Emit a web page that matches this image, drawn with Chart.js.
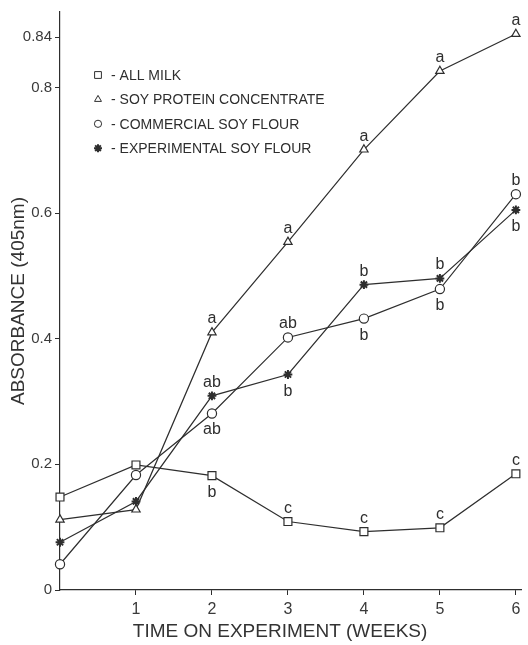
<!DOCTYPE html>
<html>
<head>
<meta charset="utf-8">
<style>
html,body{margin:0;padding:0;background:#fff;}
#wrap{width:528px;height:645px;position:relative;}
</style>
<script src="https://cdn.jsdelivr.net/npm/chart.js@4.4.1/dist/chart.umd.min.js"></script>
</head>
<body>
<div id="wrap"><canvas id="c" width="528" height="645"></canvas></div>
<script>
// ---- data ----
const weeks = [0, 1, 2, 3, 4, 5, 6];
const xTickValues = [1, 2, 3, 4, 5, 6];
const yTickValues = [0, 0.2, 0.4, 0.6, 0.8, 0.88];
const yTickLabels = ['0', '0.2', '0.4', '0.6', '0.8', '0.84'];

const seriesLabels = ['ALL MILK', 'SOY PROTEIN CONCENTRATE', 'COMMERCIAL SOY FLOUR', 'EXPERIMENTAL SOY FLOUR'];

const allMilk      = [0.148, 0.199, 0.182, 0.109, 0.093, 0.099, 0.185];
const soyProtein   = [0.112, 0.128, 0.410, 0.554, 0.701, 0.826, 0.885];
const commercialSF = [0.041, 0.183, 0.281, 0.402, 0.432, 0.479, 0.630];
const experimentSF = [0.076, 0.141, 0.309, 0.343, 0.486, 0.496, 0.605];

const allMilkLetters      = ['', '', 'b', 'c', 'c', 'c', 'c'];
const allMilkLetterPos    = ['', '', 'below', 'above', 'above', 'above', 'above'];
const soyProteinLetters   = ['', '', 'a', 'a', 'a', 'a', 'a'];
const soyProteinLetterPos = ['', '', 'above', 'above', 'above', 'above', 'above'];
const commercialLetters   = ['', '', 'ab', 'ab', 'b', 'b', 'b'];
const commercialLetterPos = ['', '', 'below', 'above', 'below', 'below', 'above'];
const experimentLetters   = ['', '', 'ab', 'b', 'b', 'b', 'b'];
const experimentLetterPos = ['', '', 'above', 'below', 'above', 'above', 'below'];

// ---- styling ----
const FONT = "'Liberation Sans', Arial, sans-serif";
const INK = '#2e2e2e';

function toXY(values) {
  return values.map((v, i) => ({ x: weeks[i], y: v }));
}

function makeDataset(label, values, style, radius, legendRadius, letters, letterPos) {
  return {
    label: label,
    data: toXY(values),
    borderColor: INK,
    borderWidth: 1.2,
    tension: 0,
    fill: false,
    pointStyle: style,
    pointRadius: radius,
    pointHoverRadius: radius,
    pointBackgroundColor: '#ffffff',
    pointBorderColor: INK,
    pointBorderWidth: style === 'star' ? 2 : 1.2,
    clip: false,
    letters: letters,
    letterPos: letterPos,
    legendRadius: legendRadius
  };
}

const datasets = [
  makeDataset(seriesLabels[0], allMilk, 'rect', 5.6, 4.8, allMilkLetters, allMilkLetterPos),
  makeDataset(seriesLabels[1], soyProtein, 'triangle', 4.8, 4.0, soyProteinLetters, soyProteinLetterPos),
  makeDataset(seriesLabels[2], commercialSF, 'circle', 4.6, 3.6, commercialLetters, commercialLetterPos),
  makeDataset(seriesLabels[3], experimentSF, 'star', 4.4, 4.0, experimentLetters, experimentLetterPos)
];

const letterPlugin = {
  id: 'letters',
  afterDatasetsDraw(chart) {
    const ctx = chart.ctx;
    ctx.save();
    ctx.font = '16px ' + FONT;
    ctx.fillStyle = INK;
    ctx.textAlign = 'center';
    ctx.textBaseline = 'alphabetic';
    chart.data.datasets.forEach((ds, di) => {
      const meta = chart.getDatasetMeta(di);
      ds.letters.forEach((t, i) => {
        if (!t) return;
        const p = meta.data[i];
        const y = ds.letterPos[i] === 'above' ? p.y - 9 : p.y + 21;
        ctx.fillText(t, p.x, y);
      });
    });
    ctx.restore();
  }
};

const legendPlugin = {
  id: 'insideLegend',
  afterDraw(chart) {
    const ctx = chart.ctx;
    ctx.save();
    chart.data.datasets.forEach((ds, i) => {
      const y = 75 + i * 24.4;
      ctx.fillStyle = '#ffffff';
      ctx.strokeStyle = INK;
      ctx.lineWidth = ds.pointStyle === 'star' ? 2 : 1;
      Chart.helpers.drawPoint(ctx, { pointStyle: ds.pointStyle, radius: ds.legendRadius, borderWidth: ctx.lineWidth, rotation: 0 }, 98, y);
      ctx.fillStyle = INK;
      ctx.font = '14px ' + FONT;
      ctx.textAlign = 'left';
      ctx.textBaseline = 'middle';
      ctx.fillText('- ' + ds.label, 111, y + 1);
    });
    ctx.restore();
  }
};

new Chart(document.getElementById('c'), {
  type: 'line',
  data: { datasets: datasets },
  plugins: [letterPlugin, legendPlugin],
  options: {
    responsive: false,
    devicePixelRatio: 1,
    animation: false,
    layout: { padding: { top: 9, right: 0, left: 0, bottom: 0 } },
    plugins: { legend: { display: false }, tooltip: { enabled: false } },
    scales: {
      x: {
        type: 'linear',
        min: 0,
        max: 6.07,
        afterBuildTicks: (s) => { s.ticks = xTickValues.map(v => ({ value: v })); },
        afterFit: (s) => { s.height = 55; },
        grid: { drawOnChartArea: false, drawTicks: true, tickLength: 5, color: INK, lineWidth: 1 },
        border: { display: true, color: INK, width: 1.2 },
        ticks: { font: { family: FONT, size: 16 }, color: '#3a3a3a', padding: 5, maxRotation: 0, autoSkip: false },
        title: { display: true, text: 'TIME ON EXPERIMENT (WEEKS)\u00a0\u00a0\u00a0\u00a0', font: { family: FONT, size: 19 }, color: '#333', padding: { top: 0, bottom: 2 } }
      },
      y: {
        type: 'linear',
        min: 0,
        max: 0.92,
        afterBuildTicks: (s) => { s.ticks = yTickValues.map(v => ({ value: v })); },
        afterFit: (s) => { s.width = 60; },
        grid: { drawOnChartArea: false, drawTicks: true, tickLength: 5, color: INK, lineWidth: 1 },
        border: { display: true, color: INK, width: 1.2 },
        ticks: {
          font: { family: FONT, size: 15 },
          color: '#3a3a3a',
          padding: 3,
          autoSkip: false,
          callback: (v) => {
            const k = yTickValues.findIndex(t => Math.abs(t - v) < 1e-6);
            return k >= 0 ? yTickLabels[k] : '';
          }
        },
        title: { display: true, text: 'ABSORBANCE (405nm)', font: { family: FONT, size: 19 }, color: '#333', padding: { top: 7, bottom: 0 } }
      }
    }
  }
});
</script>
</body>
</html>
